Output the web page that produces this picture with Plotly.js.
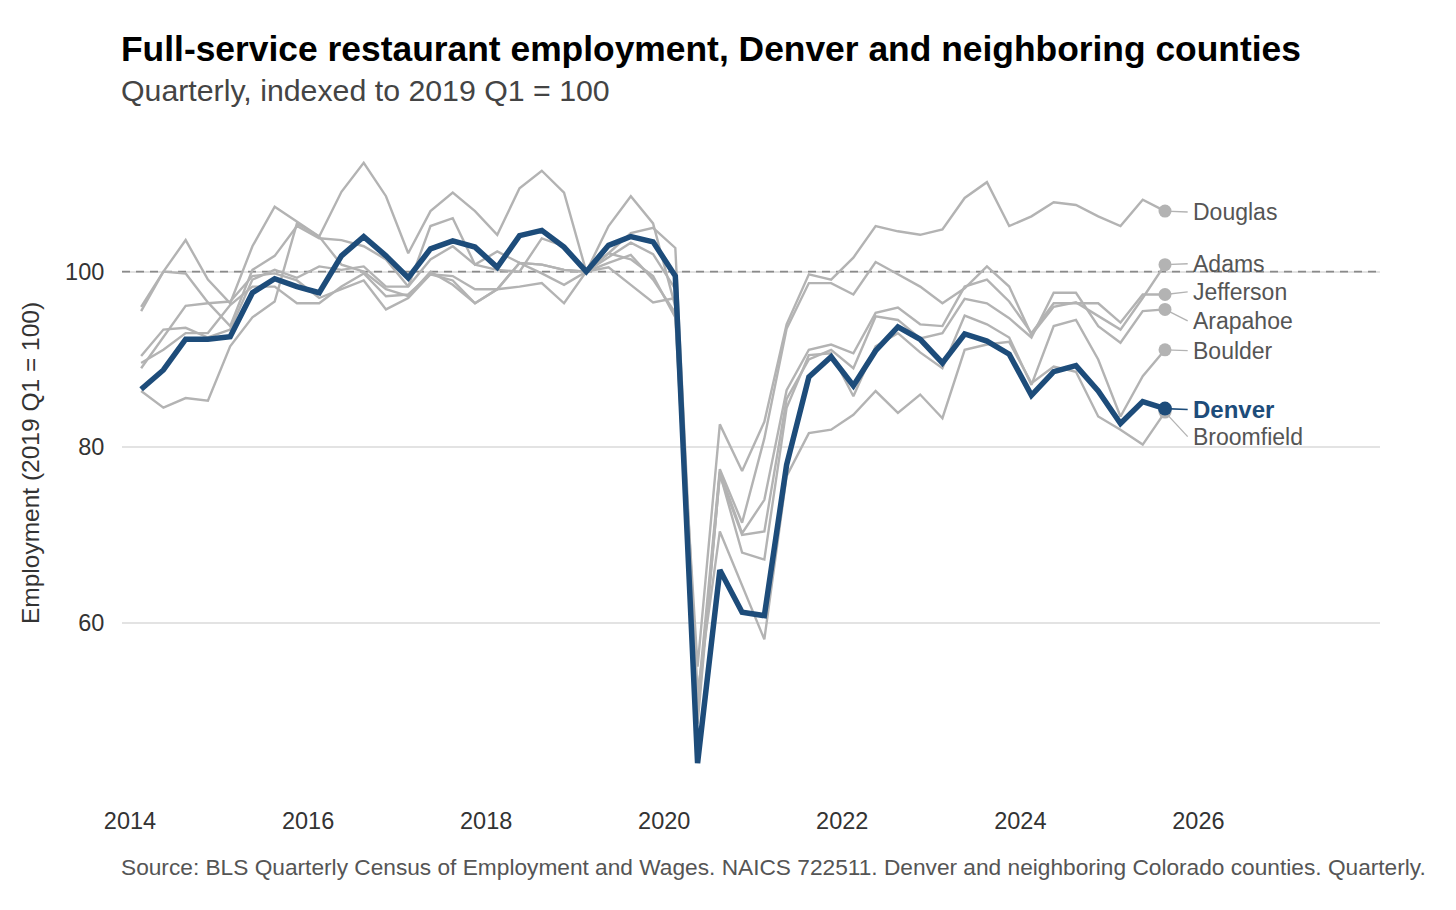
<!DOCTYPE html>
<html>
<head>
<meta charset="utf-8">
<script src="https://cdn.plot.ly/plotly-3.0.1.min.js"></script>
<style>
  html, body { margin: 0; padding: 0; background: #fff; }
  #chart { width: 1456px; height: 910px; }
</style>
</head>
<body>
<div id="chart"></div>
<script>
// ── Data: quarterly index, 2019 Q1 = 100 (2014 Q1 .. 2025 Q3) ─────────────────
const firstYear = 2014;
const nQuarters = 47;

const denver = [86.6, 88.8, 92.3, 92.3, 92.6, 97.6, 99.2, 98.3, 97.6, 101.8, 104.0, 101.8,
  99.3, 102.6, 103.5, 102.8, 100.5, 104.1, 104.7, 102.8, 100, 103.0, 104.0, 103.4,
  99.5, 44.0, 66.0, 61.2, 60.8, 78.0, 88.0, 90.3, 87.0, 91.0, 93.7, 92.3,
  89.6, 92.9, 92.1, 90.6, 85.9, 88.6, 89.3, 86.4, 82.7, 85.2, 84.4];

const douglas = [96.0, 100.0, 103.6, 99.1, 96.4, 102.9, 107.4, 105.7, 104.0, 109.1, 112.4, 108.6,
  102.1, 106.9, 109.0, 106.9, 104.2, 109.5, 111.5, 109.0, 100, 105.2, 108.6, 105.5,
  96.0, 55.0, 82.6, 77.3, 82.9, 94.0, 99.7, 99.1, 101.6, 105.2, 104.6, 104.2,
  104.8, 108.4, 110.2, 105.2, 106.3, 107.9, 107.6, 106.3, 105.2, 108.2, 106.9];

const adams = [95.5, 100.0, 99.8, 96.5, 93.8, 100.2, 101.8, 105.2, 103.8, 103.6, 102.9, 101.4,
  98.3, 105.2, 106.1, 100.8, 102.3, 101.0, 100.8, 100.2, 100, 102.1, 104.4, 105.0,
  102.7, 51.0, 77.5, 71.4, 81.0, 93.5, 98.7, 98.7, 97.4, 101.1, 99.7, 98.3,
  96.4, 98.1, 100.6, 98.3, 92.8, 96.0, 96.5, 94.9, 93.4, 97.0, 100.8];

const jefferson = [90.4, 93.4, 93.6, 92.5, 93.4, 99.1, 100.2, 99.3, 100.6, 100.2, 100.6, 98.3,
  98.3, 101.4, 102.9, 100.8, 100.2, 100.0, 103.8, 102.9, 100, 101.7, 103.3, 102.0,
  98.0, 50.0, 77.2, 70.2, 74.0, 86.5, 91.1, 91.7, 90.7, 95.3, 95.9, 94.0,
  93.8, 98.3, 99.1, 96.6, 93.0, 96.4, 96.4, 96.4, 94.2, 97.4, 97.4];

const arapahoe = [89.6, 91.1, 93.0, 93.0, 96.2, 98.3, 98.3, 96.4, 96.4, 98.3, 99.8, 97.2,
  97.4, 99.7, 99.5, 98.0, 98.0, 101.0, 100.8, 100.2, 100, 101.0, 101.9, 99.1,
  95.3, 49.5, 76.8, 70.0, 70.4, 85.5, 90.0, 91.1, 89.0, 94.9, 94.5, 92.4,
  93.0, 96.9, 96.4, 94.7, 92.5, 97.6, 97.6, 93.8, 91.9, 95.5, 95.7];

const boulder = [89.0, 92.5, 96.1, 96.4, 96.6, 99.5, 99.8, 99.0, 97.0, 98.0, 99.0, 95.7,
  97.0, 99.7, 99.0, 96.4, 98.0, 98.3, 98.7, 96.4, 100, 102.1, 101.4, 99.5,
  94.8, 48.5, 77.0, 68.0, 67.2, 84.5, 90.5, 90.7, 85.8, 91.5, 93.0, 90.8,
  89.0, 95.0, 94.0, 92.5, 87.1, 93.8, 94.5, 90.0, 83.5, 88.1, 91.1];

const broomfield = [86.4, 84.5, 85.6, 85.3, 91.5, 94.8, 96.6, 105.5, 104.0, 100.8, 100.0, 98.0,
  97.2, 100.0, 98.5, 96.4, 98.0, 101.0, 99.8, 98.5, 100, 100.5, 98.5, 96.5,
  97.0, 52.0, 70.4, 64.2, 58.1, 76.7, 81.6, 82.0, 83.7, 86.4, 83.9, 86.0,
  83.3, 91.1, 91.7, 92.0, 87.3, 89.2, 88.6, 83.5, 82.0, 80.3, 84.0];

const counties   = ['Douglas', 'Adams', 'Jefferson', 'Arapahoe', 'Boulder', 'Broomfield'];
const grayValues = [douglas, adams, jefferson, arapahoe, boulder, broomfield];
const baseline = 100;

// repelled label heights (index units), placement only
const labelY = { Douglas: 106.8, Adams: 100.9, Jefferson: 97.7, Arapahoe: 94.4,
                 Boulder: 91.0, Denver: 84.3, Broomfield: 81.2 };

// ── Quarter -> mid-quarter decimal year ───────────────────────────────────────
const quarterX = Array.from({ length: nQuarters }, (_, i) =>
  firstYear + Math.floor(i / 4) + (i % 4) / 4 + 0.125);

const GRAY = '#b3b3b3';
const BLUE = '#1d4c7a';
const FONT = 'Liberation Sans, Arial, Helvetica, sans-serif';
const xRange = [2013.91, 2028.04];
const labelX = 2025.92;
const leaderEnd = 2025.88;

const traces = [];

// reference line at 100 (above the grid, below the data)
traces.push({
  x: xRange, y: [baseline, baseline], type: 'scatter', mode: 'lines',
  line: { color: '#8a8a8a', width: 1.6, dash: '8px,6px' }, hoverinfo: 'skip',
});

// gray counties
grayValues.forEach((vals, k) => {
  traces.push({
    x: quarterX, y: vals, type: 'scatter', mode: 'lines',
    line: { color: GRAY, width: 2.4 }, hoverinfo: 'skip', name: counties[k],
  });
});

// leader lines (gray)
grayValues.forEach((vals, k) => {
  const last = vals[vals.length - 1];
  traces.push({
    x: [quarterX[nQuarters - 1], leaderEnd], y: [last, labelY[counties[k]]],
    type: 'scatter', mode: 'lines', line: { color: GRAY, width: 1.3 }, hoverinfo: 'skip',
  });
});

// Denver on top
traces.push({
  x: quarterX, y: denver, type: 'scatter', mode: 'lines',
  line: { color: BLUE, width: 5.5 }, name: 'Denver',
});
traces.push({
  x: [quarterX[nQuarters - 1], leaderEnd], y: [denver[nQuarters - 1], labelY.Denver],
  type: 'scatter', mode: 'lines', line: { color: BLUE, width: 1.6 }, hoverinfo: 'skip',
});

// endpoint dots
grayValues.forEach((vals) => {
  traces.push({
    x: [quarterX[nQuarters - 1]], y: [vals[vals.length - 1]], type: 'scatter', mode: 'markers',
    marker: { color: GRAY, size: 13 }, hoverinfo: 'skip',
  });
});
traces.push({
  x: [quarterX[nQuarters - 1]], y: [denver[nQuarters - 1]], type: 'scatter', mode: 'markers',
  marker: { color: BLUE, size: 14 }, hoverinfo: 'skip',
});

// ── Annotations: end labels, titles, caption ─────────────────────────────────
const annotations = counties.map(name => ({
  x: labelX, y: labelY[name], xref: 'x', yref: 'y', text: name, showarrow: false,
  xanchor: 'left', yanchor: 'middle', font: { family: FONT, size: 23, color: '#555' },
}));
annotations.push({
  x: labelX, y: labelY.Denver, xref: 'x', yref: 'y', text: '<b>Denver</b>', showarrow: false,
  xanchor: 'left', yanchor: 'middle', font: { family: FONT, size: 24, color: BLUE },
});
annotations.push({
  x: -0.002, y: 1.127, xref: 'paper', yref: 'paper', xanchor: 'left', yanchor: 'middle',
  text: '<b>Full-service restaurant employment, Denver and neighboring counties</b>',
  showarrow: false, font: { family: FONT, size: 35.4, color: '#000' },
});
annotations.push({
  x: -0.002, y: 1.064, xref: 'paper', yref: 'paper', xanchor: 'left', yanchor: 'middle',
  text: 'Quarterly, indexed to 2019 Q1 = 100',
  showarrow: false, font: { family: FONT, size: 30.3, color: '#444' },
});
annotations.push({
  x: -0.002, y: -0.112, xref: 'paper', yref: 'paper', xanchor: 'left', yanchor: 'middle',
  text: 'Source: BLS Quarterly Census of Employment and Wages. NAICS 722511. Denver and neighboring Colorado counties. Quarterly.',
  showarrow: false, font: { family: FONT, size: 22.7, color: '#555' },
});

const layout = {
  width: 1456, height: 910,
  paper_bgcolor: '#fff', plot_bgcolor: '#fff',
  margin: { l: 122, r: 76, t: 133, b: 117 },
  showlegend: false,
  font: { family: FONT, color: '#333' },
  xaxis: {
    range: xRange,
    tickvals: [2014, 2016, 2018, 2020, 2022, 2024, 2026],
    ticktext: ['2014', '2016', '2018', '2020', '2022', '2024', '2026'],
    showgrid: false, zeroline: false, showline: false,
    ticks: 'outside', ticklen: 7, tickcolor: 'rgba(0,0,0,0)',
    tickfont: { family: FONT, size: 23.5, color: '#333' },
  },
  yaxis: {
    range: [40.6, 115.8],
    tickvals: [60, 80, 100],
    showgrid: true, gridcolor: '#e3e3e3', gridwidth: 2,
    zeroline: false, showline: false,
    ticks: 'outside', ticklen: 12, tickcolor: 'rgba(0,0,0,0)',
    tickfont: { family: FONT, size: 23.5, color: '#333' },
    title: { text: 'Employment (2019 Q1 = 100)', standoff: 18,
             font: { family: FONT, size: 24.5, color: '#333' } },
  },
  annotations: annotations,
};

Plotly.newPlot('chart', traces, layout, { displayModeBar: false, staticPlot: true });
</script>
</body>
</html>
